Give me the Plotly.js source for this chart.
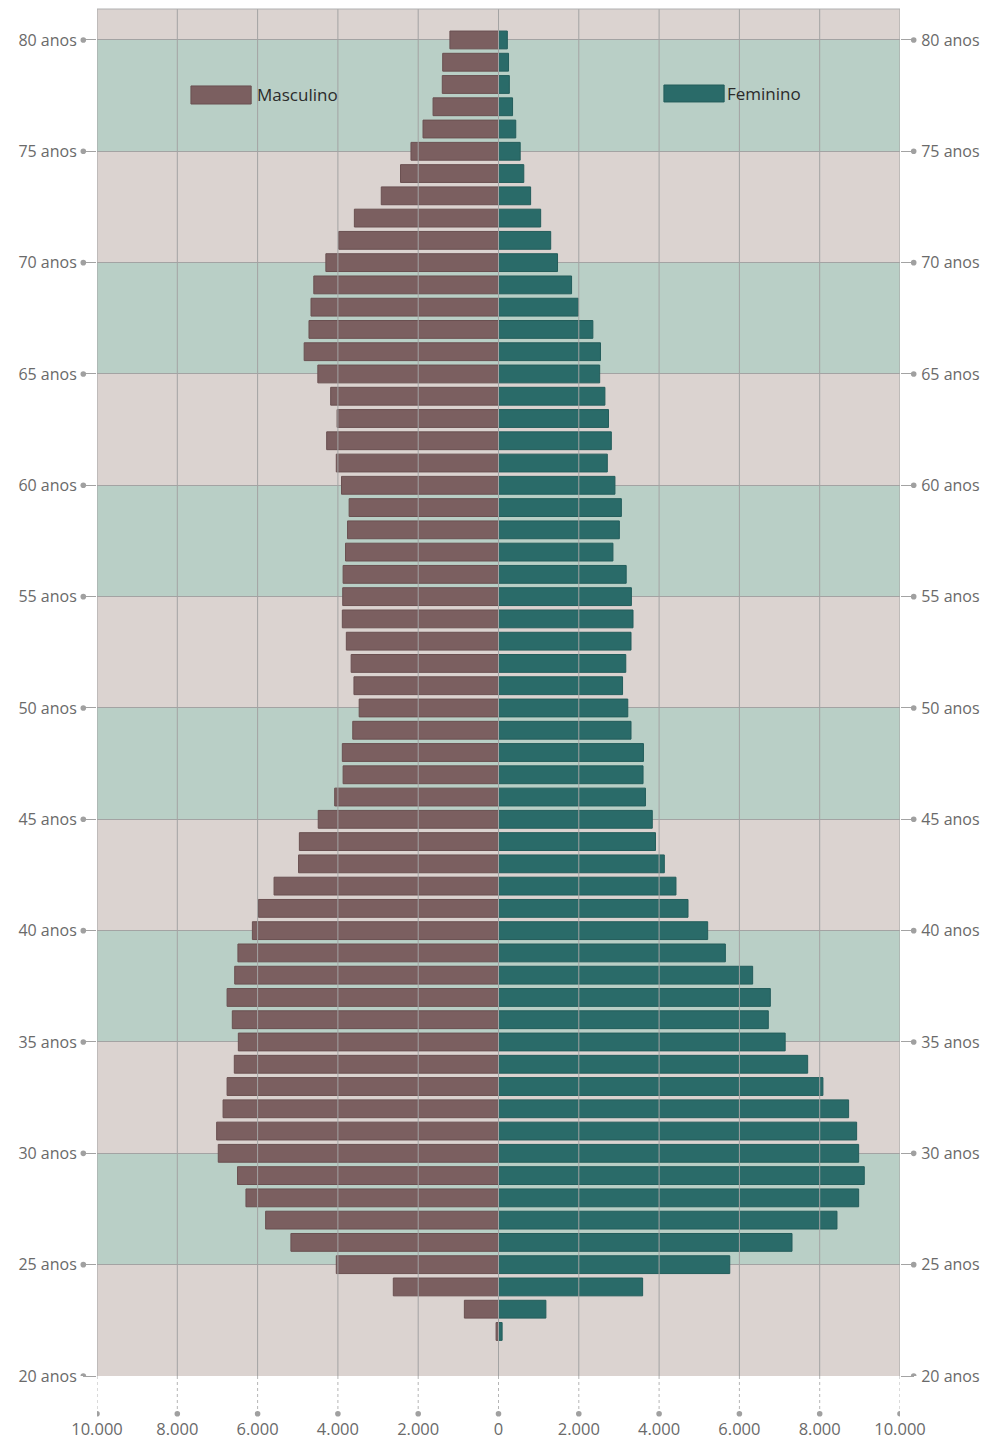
<!DOCTYPE html>
<html>
<head>
<meta charset="utf-8">
<script src="https://cdn.plot.ly/plotly-3.0.1.min.js"></script>
<style>
  html, body { margin: 0; padding: 0; background: #ffffff; }
  #chart { width: 984px; height: 1440px; }
</style>
</head>
<body>
<div id="chart"></div>
<script>
// Pirâmide etária: masculino à esquerda, feminino à direita.

const ages = [80, 79, 78, 77, 76, 75, 74, 73, 72, 71, 70, 69, 68, 67, 66, 65, 64, 63, 62, 61,
  60, 59, 58, 57, 56, 55, 54, 53, 52, 51, 50, 49, 48, 47, 46, 45, 44, 43, 42, 41,
  40, 39, 38, 37, 36, 35, 34, 33, 32, 31, 30, 29, 28, 27, 26, 25, 24, 23, 22];

const masculino = [1210, 1390, 1400, 1630, 1880, 2180, 2440, 2920, 3590, 3980, 4300, 4600, 4670, 4720, 4840, 4500, 4180, 4020, 4280, 4040,
  3910, 3720, 3760, 3810, 3870, 3880, 3890, 3790, 3670, 3600, 3470, 3630, 3890, 3870, 4080, 4490, 4960, 4980, 5590, 5980,
  6130, 6490, 6570, 6760, 6630, 6480, 6580, 6760, 6860, 7020, 6980, 6500, 6290, 5800, 5170, 4040, 2620, 850, 60];

const feminino = [220, 250, 270, 350, 430, 540, 630, 800, 1050, 1300, 1470, 1820, 1990, 2350, 2540, 2520, 2650, 2740, 2810, 2710,
  2900, 3060, 3010, 2850, 3180, 3310, 3350, 3300, 3170, 3090, 3220, 3300, 3610, 3600, 3660, 3830, 3910, 4130, 4420, 4720,
  5210, 5650, 6330, 6770, 6720, 7140, 7700, 8080, 8720, 8920, 8970, 9110, 8970, 8430, 7310, 5760, 3590, 1180, 90];

const ageTicks  = [20, 25, 30, 35, 40, 45, 50, 55, 60, 65, 70, 75, 80];
const ageLabels = ["20 anos", "25 anos", "30 anos", "35 anos", "40 anos", "45 anos", "50 anos",
  "55 anos", "60 anos", "65 anos", "70 anos", "75 anos", "80 anos"];

const popTicks  = [-10000, -8000, -6000, -4000, -2000, 0, 2000, 4000, 6000, 8000, 10000];
const popLabels = ["10.000", "8.000", "6.000", "4.000", "2.000", "0", "2.000", "4.000", "6.000", "8.000", "10.000"];

const greenBands = [[25, 30], [35, 40], [45, 50], [55, 60], [65, 70], [75, 80]];

const COLORS = {
  male:     "#7b5f60",
  maleEdge: "#6a5051",
  female:   "#2a6b69",
  femEdge:  "#235d5b",
  beige:    "#dbd3d0",
  green:    "#b9cfc6",
  grid:     "#a3a3a3",
  tick:     "#6a6a6a",
  text:     "#2b2b2b",
};

const shapes = [];

// faixas verdes de fundo
greenBands.forEach(([a, b]) => {
  shapes.push({ type: "rect", xref: "paper", yref: "y", x0: 0, x1: 1, y0: a, y1: b,
    fillcolor: COLORS.green, line: { width: 0 }, layer: "below" });
});

// linhas verticais por cima das barras + prolongamento pontilhado até aos rótulos
popTicks.forEach((v) => {
  shapes.push({ type: "line", xref: "x", yref: "paper", x0: v, x1: v, y0: 0, y1: 1,
    line: { color: COLORS.grid, width: 1 }, layer: "above" });
  shapes.push({ type: "line", xref: "x", yref: "paper", x0: v, x1: v,
    ysizemode: "pixel", yanchor: 0, y0: 0, y1: -37,
    line: { color: "#b5b5b5", width: 1, dash: "dot" } });
  shapes.push({ type: "circle", xref: "x", yref: "paper",
    xsizemode: "pixel", xanchor: v, x0: -2.8, x1: 2.8,
    ysizemode: "pixel", yanchor: 0, y0: -40.5, y1: -34.9,
    fillcolor: "#a0a0a0", line: { width: 0 } });
});

// pontos nas extremidades das marcas de idade
ageTicks.forEach((a) => {
  [[0, -16.5, -10.9], [1, 10.9, 16.5]].forEach(([anchor, p0, p1]) => {
    shapes.push({ type: "circle", xref: "paper", yref: "y",
      xsizemode: "pixel", xanchor: anchor, x0: p0, x1: p1,
      ysizemode: "pixel", yanchor: a, y0: -2.8, y1: 2.8,
      fillcolor: "#a0a0a0", line: { width: 0 } });
  });
});

// legenda desenhada à mão (retângulos largos)
shapes.push({ type: "rect", xref: "paper", yref: "paper", x0: 0.117, x1: 0.192, y0: 0.9305, y1: 0.9437,
  fillcolor: COLORS.male, line: { color: COLORS.maleEdge, width: 1 } });
shapes.push({ type: "rect", xref: "paper", yref: "paper", x0: 0.706, x1: 0.781, y0: 0.932, y1: 0.9444,
  fillcolor: COLORS.female, line: { color: COLORS.femEdge, width: 1 } });

const annotations = [
  { text: "Masculino", xref: "paper", yref: "paper", x: 0.197, y: 0.9371, xanchor: "left", yanchor: "middle",
    showarrow: false, font: { family: "Open Sans", size: 17, color: COLORS.text } },
  { text: "Feminino", xref: "paper", yref: "paper", x: 0.782, y: 0.9382, xanchor: "left", yanchor: "middle",
    showarrow: false, font: { family: "Open Sans", size: 17, color: COLORS.text } },
];

const maleTrace = {
  type: "bar", orientation: "h", name: "Masculino",
  y: ages, x: masculino.map((v) => -v),
  marker: { color: COLORS.male, line: { color: COLORS.maleEdge, width: 1 } },
  hoverinfo: "skip",
};
const femaleTrace = {
  type: "bar", orientation: "h", name: "Feminino",
  y: ages, x: feminino,
  marker: { color: COLORS.female, line: { color: COLORS.femEdge, width: 1 } },
  hoverinfo: "skip",
};
const rightAxisHolder = { type: "scatter", x: [], y: [], yaxis: "y2", showlegend: false, hoverinfo: "skip" };

const yRange = [20, 81.39];
const yCommon = {
  range: yRange, tickmode: "array", tickvals: ageTicks, ticktext: ageLabels,
  ticks: "outside", ticklen: 13, tickcolor: COLORS.grid, tickwidth: 1,
  tickfont: { family: "Open Sans", size: 16, color: COLORS.tick },
  showgrid: true, gridcolor: COLORS.grid, gridwidth: 1, zeroline: false,
  showline: false, fixedrange: true,
};

const layout = {
  width: 984, height: 1440,
  paper_bgcolor: "#ffffff",
  plot_bgcolor: COLORS.beige,
  margin: { t: 9, r: 84, b: 64, l: 97 },
  barmode: "overlay", bargap: 0.2,
  showlegend: false,
  font: { family: "Open Sans", color: COLORS.tick },
  xaxis: {
    range: [-10000, 10000], tickmode: "array", tickvals: popTicks, ticktext: popLabels,
    ticks: "outside", ticklen: 38, tickcolor: "rgba(0,0,0,0)",
    tickfont: { family: "Open Sans", size: 16.5, color: COLORS.tick },
    showgrid: false, zeroline: false, showline: false, fixedrange: true,
  },
  yaxis: { ...yCommon, side: "left", ticklabelstandoff: 3 },
  yaxis2: { ...yCommon, side: "right", overlaying: "y", anchor: "x", showgrid: false, ticklabelstandoff: 4 },
  shapes,
  annotations,
};

// borda superior da área do gráfico
shapes.push({ type: "line", xref: "paper", yref: "paper", x0: 0, x1: 1, y0: 1, y1: 1,
  line: { color: "#b0b0b0", width: 1 } });

Plotly.newPlot("chart", [maleTrace, femaleTrace, rightAxisHolder], layout,
  { displayModeBar: false, staticPlot: true });
</script>
</body>
</html>
